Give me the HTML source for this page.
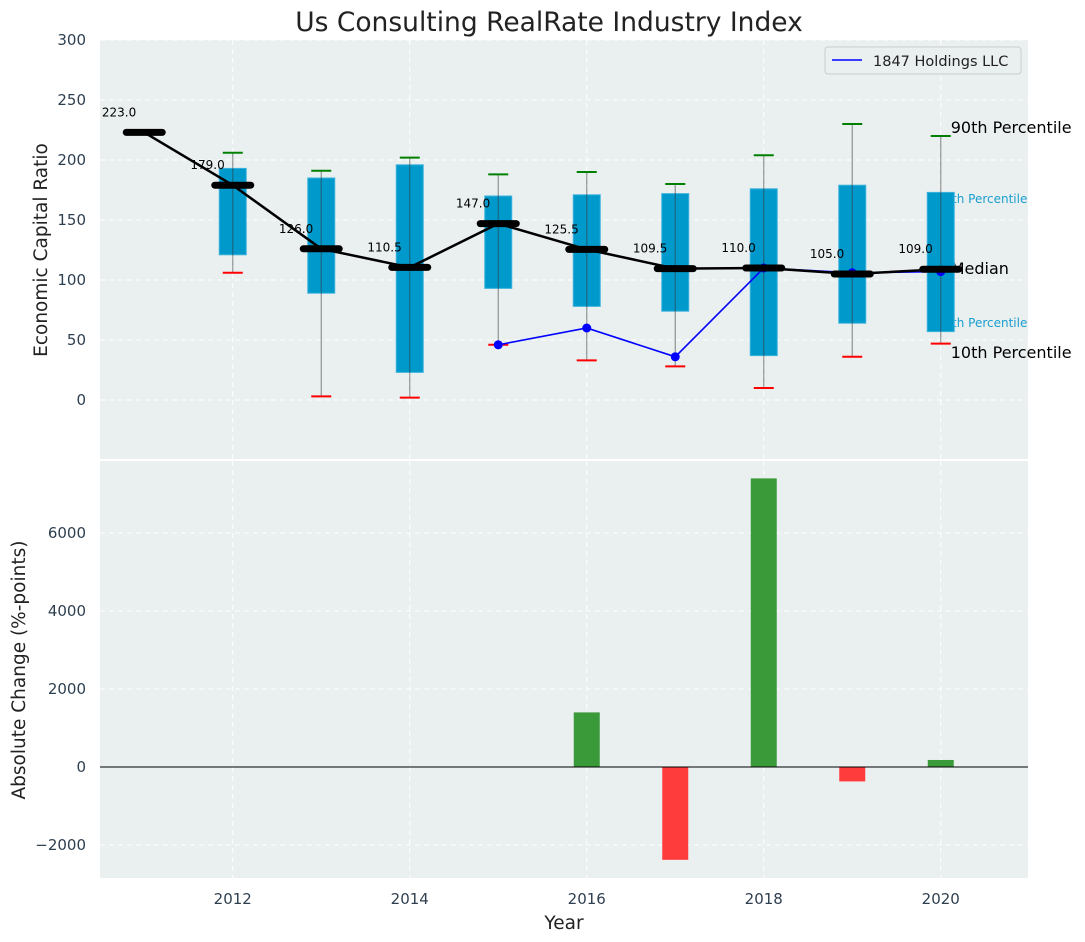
<!DOCTYPE html>
<html><head><meta charset="utf-8"><style>
body{margin:0;background:#fff;}
svg{display:block;font-family:"DejaVu Sans","Liberation Sans",sans-serif;}
</style></head><body>
<svg id="c" width="1085" height="942" xmlns="http://www.w3.org/2000/svg"></svg>
<script>
const years=[2011,2012,2013,2014,2015,2016,2017,2018,2019,2020];
const medians=[223,179,126,110.5,147,125.5,109.5,110,105,109];
const p25=[null,121,89,23,93,78,74,37,64,57];
const p75=[null,193,185,196,170,171,172,176,179,173];
const p10=[null,106,3,2,46,33,28,10,36,47];
const p90=[null,206,191,202,188,190,180,204,230,220];
const compYears=[2015,2016,2017,2018,2019,2020];
const compVals=[46,60,36,110,106,107];
const changeYears=[2016,2017,2018,2019,2020];
const changeVals=[1400,-2380,7400,-370,180];
const yTicksTop=[0,50,100,150,200,250,300];
const yTicksBot=[-2000,0,2000,4000,6000];
const xTicks=[2012,2014,2016,2018,2020];

const NS="http://www.w3.org/2000/svg";
const svg=document.getElementById('c');
function el(tag,attrs,parent,text){const e=document.createElementNS(NS,tag);for(const k in attrs)e.setAttribute(k,attrs[k]);if(text!==undefined)e.textContent=text;(parent||svg).appendChild(e);return e;}
const X=y=>100+(y-2010.5)*88.5;
const Yt=v=>400-v*1.2;
const Yb=v=>767-v*0.039;
const L=100,R=1028;

let bg=el('rect',{x:L,y:40,width:R-L,height:419,fill:'#eaeff0'});

let bg2=el('rect',{x:L,y:461,width:R-L,height:417,fill:'#eaeff0'});


xTicks.forEach(t=>{
 el('line',{x1:X(t),x2:X(t),y1:40,y2:459,stroke:'#fff','stroke-dasharray':'5,4','stroke-width':1});
 el('line',{x1:X(t),x2:X(t),y1:461,y2:878,stroke:'#fff','stroke-dasharray':'5,4','stroke-width':1});
 let tl=el('text',{x:X(t),y:904,'text-anchor':'middle','font-size':15,fill:'#2e3f50'},null,String(t));
 
});
yTicksTop.forEach(t=>{
 el('line',{x1:L,x2:R,y1:Yt(t),y2:Yt(t),stroke:'#fff','stroke-dasharray':'5,4','stroke-width':1});
 let tl=el('text',{x:86,y:Yt(t)+5,'text-anchor':'end','font-size':15,fill:'#2e3f50'},null,String(t));
 
});
yTicksBot.forEach(t=>{
 el('line',{x1:L,x2:R,y1:Yb(t),y2:Yb(t),stroke:'#fff','stroke-dasharray':'5,4','stroke-width':1});
 let tl=el('text',{x:86,y:Yb(t)+5,'text-anchor':'end','font-size':15,fill:'#2e3f50'},null,(t<0?'\u2212':'')+Math.abs(t));
 
});

const lx=X(2020)+10;
[['90th Percentile',133,16,'#000',lx],['75th Percentile',203,12,'#1a9fcf',lx-14],['Median',274,16,'#000',lx],['25th Percentile',327,12,'#1a9fcf',lx-14],['10th Percentile',358,16,'#000',lx]].forEach(a=>{
 let t=el('text',{x:a[4],y:a[1],'font-size':a[2],fill:a[3]},null,a[0]);
 
});

years.forEach((yr,i)=>{
 if(p25[i]===null)return;
 const cx=X(yr);
 let b=el('rect',{x:cx-13.5,y:Yt(p75[i]),width:27,height:Yt(p25[i])-Yt(p75[i]),fill:'#0099cc',stroke:'#3db3dd','stroke-width':1});
 
 el('line',{x1:cx,x2:cx,y1:Yt(p90[i]),y2:Yt(p10[i]),stroke:'#333','stroke-opacity':0.5,'stroke-width':1.2});
 let g=el('line',{x1:cx-10,x2:cx+10,y1:Yt(p90[i]),y2:Yt(p90[i]),stroke:'green','stroke-width':2});
 
 let r=el('line',{x1:cx-10,x2:cx+10,y1:Yt(p10[i]),y2:Yt(p10[i]),stroke:'red','stroke-width':2});
 
});

let cl=el('polyline',{points:compYears.map((y,i)=>X(y)+','+Yt(compVals[i])).join(' '),fill:'none',stroke:'blue','stroke-width':1.6});

compYears.forEach((y,i)=>{let c=el('circle',{cx:X(y),cy:Yt(compVals[i]),r:4.5,fill:'blue'});
 });

let ml=el('polyline',{points:years.map((y,i)=>X(y)+','+Yt(medians[i])).join(' '),fill:'none',stroke:'#000','stroke-width':2.5});

years.forEach((y,i)=>{
 let m=el('line',{x1:X(y)-18,x2:X(y)+18,y1:Yt(medians[i]),y2:Yt(medians[i]),stroke:'#000','stroke-width':7,'stroke-linecap':'round'});
 
 let t=el('text',{x:X(y)-8,y:Yt(medians[i])-16,'text-anchor':'end','font-size':12,fill:'#000'},null,medians[i].toFixed(1));
 
});

let lg=el('g',{});
el('rect',{x:825,y:47,width:196,height:27,rx:3,fill:'#eaeff0',stroke:'#ccc'},lg);
el('line',{x1:832,x2:862,y1:60,y2:60,stroke:'blue','stroke-width':1.6},lg);
let lt=el('text',{x:873,y:66,'font-size':14.5,fill:'#222'},lg,'1847 Holdings LLC');


changeYears.forEach((y,i)=>{
 const v=changeVals[i];
 let b=el('rect',{x:X(y)-13,y:Math.min(Yb(v),Yb(0)),width:26,height:Math.abs(Yb(v)-Yb(0)),fill:v>=0?'#3a9a3a':'#ff3c3c'});
 
});
el('line',{x1:L,x2:R,y1:Yb(0),y2:Yb(0),stroke:'#000','stroke-width':1});

let tt=el('text',{x:549,y:31,'text-anchor':'middle','font-size':26.5,fill:'#222'},null,'Us Consulting RealRate Industry Index');

let yl=el('text',{x:0,y:0,'text-anchor':'middle','font-size':18.5,fill:'#222',transform:'translate(47,250) rotate(-90)'},null,'Economic Capital Ratio');

let yl2=el('text',{x:0,y:0,'text-anchor':'middle','font-size':18.5,fill:'#222',transform:'translate(25,670) rotate(-90)'},null,'Absolute Change (%-points)');

let xl=el('text',{x:564,y:929,'text-anchor':'middle','font-size':18.5,fill:'#222'},null,'Year');

</script>
</body></html>
